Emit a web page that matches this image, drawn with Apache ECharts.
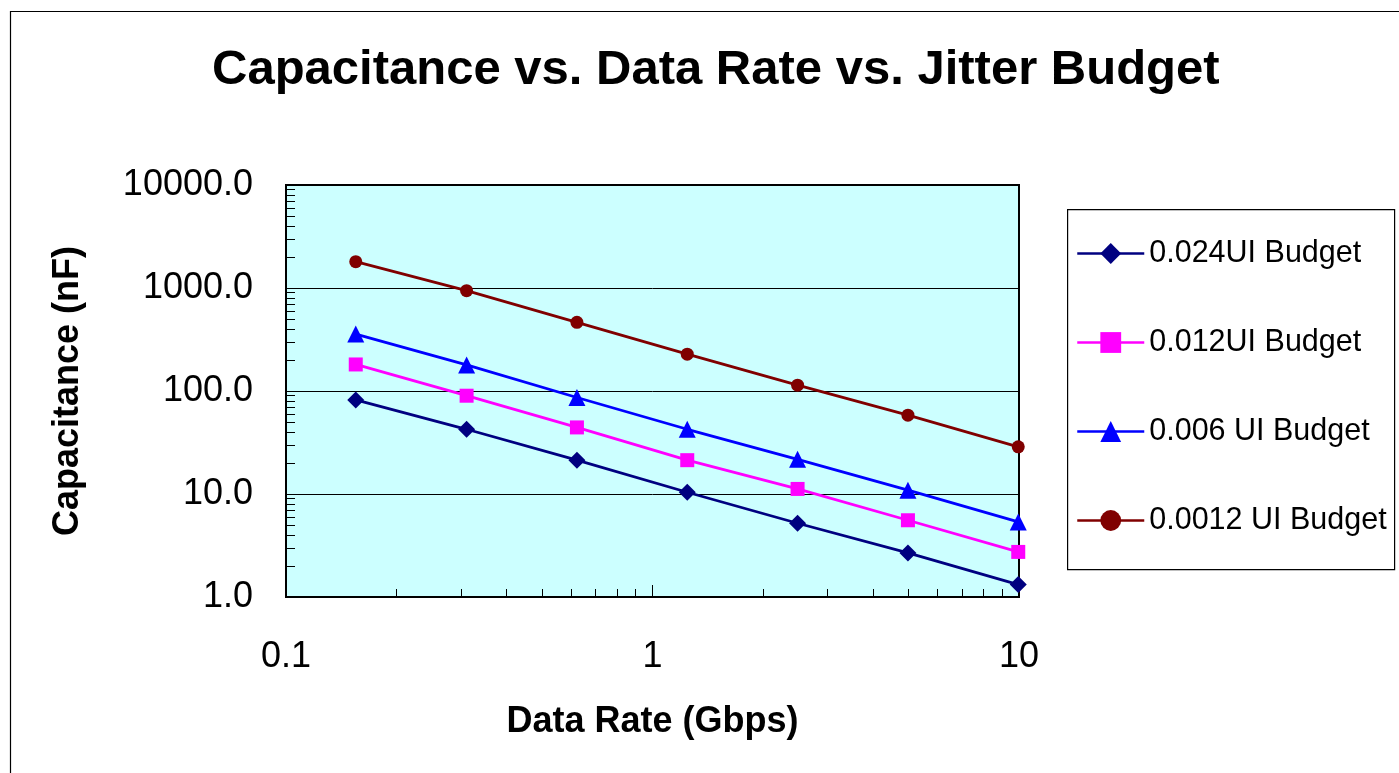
<!DOCTYPE html>
<html>
<head>
<meta charset="utf-8">
<script src="https://cdn.jsdelivr.net/npm/echarts@6/dist/echarts.min.js"></script>
<style>
html,body{margin:0;padding:0;background:#fff;}
#chart{width:1399px;height:773px;}
</style>
</head>
<body>
<div id="chart"></div>
<script>
// Data rates (Gbps)
const dataRates = [0.155, 0.311, 0.622, 1.244, 2.488, 4.977, 9.953];
// Capacitance (nF) per jitter budget
const budget0024 = [82, 42.5, 21.3, 10.4, 5.2, 2.68, 1.32];
const budget0012 = [181, 90, 44.3, 21.3, 11.2, 5.56, 2.74];
const budget0006 = [357, 179, 86.5, 42.5, 21.7, 10.9, 5.36];
const budget00012 = [1800, 941, 464, 228, 114, 58.3, 28.7];
const seriesNames = ['0.024UI Budget', '0.012UI Budget', '0.006 UI Budget', '0.0012 UI Budget'];

const FONT = "'Liberation Sans', Arial, sans-serif";

function pairs(xs, ys) { return xs.map((x, i) => [x, ys[i]]); }

const chart = echarts.init(document.getElementById('chart'), null, {renderer: 'canvas'});

const styles = [
  {color: '#000080', symbol: 'diamond', size: 17},
  {color: '#FF00FF', symbol: 'rect', size: 14},
  {color: '#0000FF', symbol: 'triangle', size: 17},
  {color: '#800000', symbol: 'circle', size: 13}
];
const values = [budget0024, budget0012, budget0006, budget00012];

const option = {
  backgroundColor: '#ffffff',
  animation: false,
  title: {
    text: 'Capacitance vs. Data Rate vs. Jitter Budget',
    left: 212,
    top: 46,
    padding: 0,
    textStyle: {fontFamily: FONT, fontWeight: 'bold', fontSize: 49, color: '#000'}
  },
  graphic: [
    {type: 'rect', left: 8, top: 9, shape: {width: 1500, height: 900}, style: {fill: 'none', stroke: '#000', lineWidth: 1.2}, z: 100, silent: true},
    {type: 'rect', left: 1067, top: 209, shape: {width: 327, height: 360}, style: {fill: '#fff', stroke: '#000', lineWidth: 1.2}, z: 0, silent: true}
  ],
  legend: {
    orient: 'vertical',
    left: 1076,
    top: 236,
    itemWidth: 67,
    itemHeight: 26,
    itemGap: 54,
    padding: 0,
    textStyle: {fontFamily: FONT, fontSize: 30.5, color: '#000', lineHeight: 35},
    lineStyle: {width: 2.5},
    data: seriesNames
  },
  grid: {
    left: 286, top: 185, right: 380, bottom: 176,
    show: true, backgroundColor: '#CCFFFF', borderColor: '#000', borderWidth: 2
  },
  xAxis: {
    type: 'log', logBase: 10, min: 0.1, max: 10,
    name: 'Data Rate (Gbps)', nameLocation: 'middle', nameGap: 107,
    nameTextStyle: {fontFamily: FONT, fontWeight: 'bold', fontSize: 36, color: '#000'},
    axisLine: {show: true, lineStyle: {color: '#000', width: 2}},
    axisTick: {show: true, inside: true, length: 12, lineStyle: {color: '#000', width: 1}},
    minorTick: {show: true, splitNumber: 9, length: 8, lineStyle: {color: '#000', width: 1}},
    splitLine: {show: false},
    axisLabel: {fontFamily: FONT, fontSize: 36, color: '#000', margin: 42,
      formatter: v => (v < 1 ? v.toFixed(1) : v.toFixed(0))}
  },
  yAxis: {
    type: 'log', logBase: 10, min: 1, max: 10000,
    name: 'Capacitance (nF)', nameLocation: 'middle', nameGap: 200,
    nameTextStyle: {fontFamily: FONT, fontWeight: 'bold', fontSize: 36, color: '#000'},
    axisLine: {show: true, lineStyle: {color: '#000', width: 2}},
    axisTick: {show: true, inside: true, length: 9, lineStyle: {color: '#000', width: 1}},
    minorTick: {show: true, splitNumber: 9, length: 9, lineStyle: {color: '#000', width: 1}},
    splitLine: {show: true, lineStyle: {color: '#000', width: 1}},
    axisLabel: {fontFamily: FONT, fontSize: 36, color: '#000', margin: 33,
      formatter: v => v.toFixed(1)}
  },
  series: seriesNames.map((name, i) => ({
    name: name,
    type: 'line',
    data: pairs(dataRates, values[i]),
    symbol: styles[i].symbol,
    symbolSize: styles[i].size,
    showAllSymbol: true,
    lineStyle: {color: styles[i].color, width: 2.8},
    itemStyle: {color: styles[i].color},
    color: styles[i].color,
    clip: false,
    z: 3
  }))
};

chart.setOption(option);
</script>
</body>
</html>
